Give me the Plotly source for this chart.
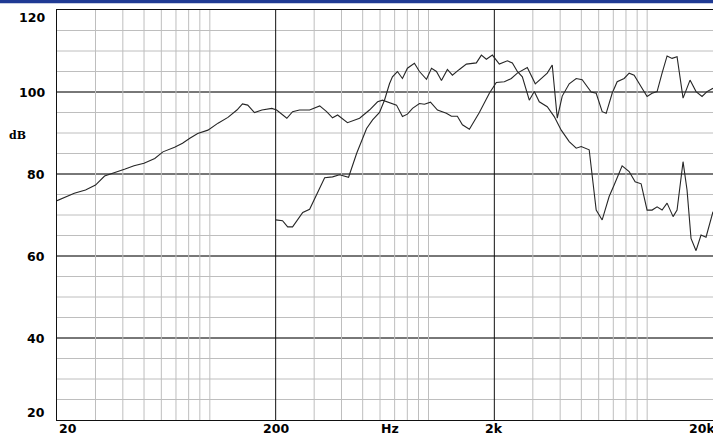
import math
import plotly.graph_objects as go

# Curve A (full-range response), frequency in Hz and level in dB
freq_a = [20, 22, 24, 27, 30, 33, 37, 41, 45, 50, 56, 61, 69, 75, 81, 88, 98, 109,
          121, 133, 141, 149, 160, 173, 192, 202, 225, 239, 257, 286, 318, 342, 364,
          384, 426, 484, 537, 585, 616, 663, 714, 760, 801, 845, 909, 958, 1021, 1099,
          1207, 1273, 1355, 1429, 1538, 1708, 1898, 2042, 2222, 2392, 2548, 2830, 3078,
          3492, 3680, 3880, 4088, 4400, 4736, 5044, 5546, 5846, 6226, 6494, 6916, 7290,
          7846, 8270, 8718, 9384, 9990, 10530, 11100, 11700, 12332, 12998, 13698, 14590,
          15704, 16730, 17820, 18778, 20000]
db_a = [73.5, 74.5, 75.3, 76.1, 77.3, 79.5, 80.3, 81.2, 82.0, 82.6, 83.8, 85.4, 86.5,
        87.5, 88.7, 89.9, 90.7, 92.4, 93.8, 95.6, 97.1, 96.8, 95.0, 95.6, 96.0, 95.6,
        93.6, 95.2, 95.6, 95.6, 96.6, 95.2, 93.7, 94.4, 92.5, 93.6, 95.6, 97.6, 98.0,
        97.4, 96.8, 94.0, 94.6, 96.0, 97.2, 97.0, 97.5, 95.6, 94.8, 94.1, 94.1, 92.0,
        90.9, 95.0, 99.7, 102.3, 102.5, 103.3, 104.6, 106.0, 102.0, 104.6, 106.6, 93.6,
        99.0, 102.0, 103.3, 103.0, 100.0, 99.7, 95.2, 94.8, 99.7, 102.5, 103.3, 104.6,
        104.1, 101.3, 98.9, 99.7, 100.1, 104.6, 108.8, 108.2, 108.6, 98.5, 102.9, 100.1,
        98.9, 100.1, 100.9]

# Curve B (starts at 200 Hz)
freq_b = [200, 215, 227, 239, 266, 286, 335, 364, 392, 431, 469, 521, 555, 597, 629,
          663, 684, 721, 760, 801, 862, 909, 979, 1032, 1087, 1146, 1220, 1286, 1384,
          1490, 1655, 1745, 1839, 1959, 2108, 2294, 2418, 2548, 2686, 2890, 3046, 3210,
          3492, 3758, 4046, 4400, 4736, 4992, 5430, 5604, 5846, 6226, 6700, 7062, 7682,
          8270, 8810, 9384, 9990, 10530, 11100, 11700, 12332, 13136, 13698, 14590, 15216,
          15868, 16730, 17632, 18580, 20000]
db_b = [68.8, 68.6, 67.1, 67.1, 70.6, 71.4, 79.1, 79.3, 79.8, 79.2, 85.0, 91.1, 93.2,
        95.0, 98.0, 102.0, 103.7, 105.0, 103.3, 105.8, 107.0, 105.0, 103.1, 105.8, 105.0,
        102.8, 105.5, 104.1, 105.5, 106.8, 107.1, 109.0, 108.0, 109.0, 106.8, 107.6,
        107.1, 105.0, 103.7, 98.0, 100.1, 97.6, 96.4, 94.0, 90.7, 87.9, 86.3, 86.7, 85.9,
        80.2, 71.2, 68.8, 74.5, 77.3, 82.0, 80.6, 78.1, 77.6, 71.2, 71.2, 72.0, 71.2,
        72.9, 69.6, 71.2, 83.0, 76.1, 64.3, 61.3, 65.1, 64.6, 70.8]

x_label_vals = [20, 200, 2000, 20000]
x_label_text = ["20", "200", "2k", "20k"]
y_label_vals = [20, 40, 60, 80, 100, 120]
x_minor = [m * 10 ** p for p in (1, 2, 3) for m in range(3, 11)]
y_minor = list(range(25, 120, 5))
x_major = [200, 2000]
y_major = [40, 60, 80, 100]

LABEL_FONT = dict(family="DejaVu Sans", size=12.5, color="black")
GRID_GREY = "#bebebe"


def vlines(freqs):
    xs, ys = [], []
    for f in freqs:
        xs += [f, f, None]
        ys += [20, 120, None]
    return xs, ys


fig = go.Figure()
gx, gy = vlines(x_minor)
fig.add_trace(go.Scatter(x=gx, y=gy, mode="lines", hoverinfo="skip",
                         line=dict(color=GRID_GREY, width=1), showlegend=False))
gx, gy = vlines(x_major)
fig.add_trace(go.Scatter(x=gx, y=gy, mode="lines", hoverinfo="skip",
                         line=dict(color="#111111", width=1), showlegend=False))
fig.add_trace(go.Scatter(x=freq_a, y=db_a, mode="lines",
                         line=dict(color="#262626", width=1.1), showlegend=False))
fig.add_trace(go.Scatter(x=freq_b, y=db_b, mode="lines",
                         line=dict(color="#262626", width=1.1), showlegend=False))

shapes = []
for v in y_minor:
    shapes.append(dict(type="line", xref="paper", yref="y", x0=0, x1=1, y0=v, y1=v,
                       line=dict(color=GRID_GREY, width=1), layer="below"))
for v in y_major:
    shapes.append(dict(type="line", xref="paper", yref="y", x0=0, x1=1, y0=v, y1=v,
                       line=dict(color="#111111", width=1), layer="below"))
# blue title strip at the very top
shapes.append(dict(type="rect", xref="paper", yref="paper", x0=-0.1, x1=1.1,
                   y0=1.0165, y1=1.03, fillcolor="#1f3a94", line=dict(width=0)))

annotations = []
for v in y_label_vals:
    shift = -7 if v == 120 else (8 if v == 20 else 0)
    annotations.append(dict(xref="paper", yref="y", x=0, y=v, text="<b>%d</b>" % v,
                            xanchor="right", yanchor="middle", xshift=-10, yshift=shift,
                            showarrow=False, font=LABEL_FONT))
for f, t in zip(x_label_vals, x_label_text):
    if f == 20:
        anchor, shift = "left", 0
    elif f == 20000:
        anchor, shift = "right", 4
    else:
        anchor, shift = "center", 0
    annotations.append(dict(xref="x", yref="paper", x=math.log10(f), y=0, text="<b>%s</b>" % t,
                            xanchor=anchor, xshift=shift, yanchor="middle",
                            yshift=-8, showarrow=False, font=LABEL_FONT))
annotations.append(dict(xref="paper", yref="paper", x=0.507, y=0, text="<b>Hz</b>",
                        xanchor="center", yanchor="middle", yshift=-8, showarrow=False,
                        font=LABEL_FONT))
annotations.append(dict(xref="paper", yref="y", x=0, y=89.5, text="<b>dB</b>",
                        xanchor="right", yanchor="middle", xshift=-29, showarrow=False,
                        font=dict(family="DejaVu Serif", size=11, color="black")))

fig.update_layout(
    width=713, height=436,
    margin=dict(l=57, r=0, t=10, b=16),
    paper_bgcolor="white", plot_bgcolor="white",
    shapes=shapes, annotations=annotations,
    xaxis=dict(type="log", range=[math.log10(20), math.log10(20000)], showgrid=False,
               showticklabels=False, ticks="", zeroline=False,
               showline=True, linecolor="#111111", linewidth=1, mirror=True),
    yaxis=dict(range=[20, 120], showgrid=False, showticklabels=False, ticks="",
               zeroline=False, showline=True, linecolor="#111111", linewidth=1, mirror=True),
)

fig.write_html("out.html", config={"displayModeBar": False},
               post_script="document.body.style.margin='0';document.body.style.overflow='hidden';")
